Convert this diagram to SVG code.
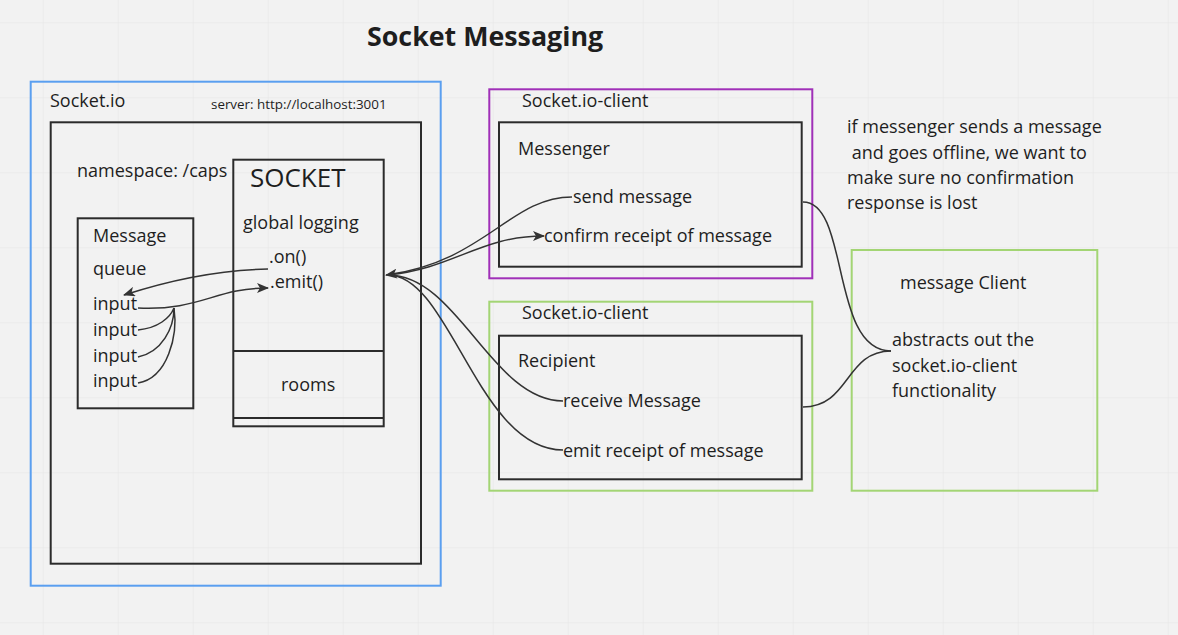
<svg xmlns="http://www.w3.org/2000/svg" width="1178" height="635" viewBox="0 0 1178 635">
<defs>
<pattern id="grid" x="42.7" y="22.3" width="75" height="75" patternUnits="userSpaceOnUse">
<path d="M0,0 H75 M0,0 V75" stroke="#e6e6e6" stroke-width="1.2" fill="none"/>
</pattern>
<marker id="arr" viewBox="0 0 12 10" refX="11" refY="5" markerWidth="12" markerHeight="10" markerUnits="userSpaceOnUse" orient="auto">
<path d="M0,0 L12,5 L0,10 L3,5 z" fill="#333"/>
</marker>
<style>
text{font-family:"Open Sans","Noto Sans",sans-serif;fill:#1e1e1e;font-size:18px}
.box{fill:none;stroke:#2b2b2b;stroke-width:2}
.blue{fill:none;stroke:#5a9ff0;stroke-width:2}
.purple{fill:none;stroke:#a030b8;stroke-width:2}
.green{fill:none;stroke:#a3d574;stroke-width:2}
.c{fill:none;stroke:#333;stroke-width:1.5}
</style>
</defs>
<rect width="1178" height="635" fill="#f2f2f2"/>
<rect width="1178" height="635" fill="url(#grid)"/>

<text x="367" y="46" style="font-size:26.8px;font-weight:bold">Socket Messaging</text>

<g id="socketio">
<rect class="blue" x="30.7" y="81.7" width="410" height="504"/>
<text x="50" y="107">Socket.io</text>
<text x="211" y="109" style="font-size:13.4px">server: http://localhost:3001</text>
</g>
<g id="namespace">
<rect class="box" x="50.7" y="122.3" width="370.3" height="441.4"/>
<text x="77" y="177">namespace: /caps</text>
</g>
<g id="message-queue">
<rect class="box" x="77.7" y="218.3" width="115.6" height="190"/>
<text x="93" y="242">Message</text>
<text x="93" y="275">queue</text>
<text x="93" y="310">input</text>
<text x="93" y="336">input</text>
<text x="93" y="362">input</text>
<text x="93" y="387">input</text>
</g>
<g id="socket">
<rect class="box" x="233.3" y="159.7" width="150.4" height="266.6"/>
<line class="box" x1="233.3" y1="351" x2="383.7" y2="351"/>
<line class="box" x1="233.3" y1="418" x2="383.7" y2="418"/>
<text x="250" y="187" style="font-size:26px">SOCKET</text>
<text x="243" y="229">global logging</text>
<text x="269" y="263">.on()</text>
<text x="270" y="288">.emit()</text>
<text x="281" y="391">rooms</text>
</g>
<g id="client-messenger">
<rect class="purple" x="489.3" y="89.3" width="323" height="189"/>
<text x="522" y="107">Socket.io-client</text>
<rect class="box" x="499" y="122.3" width="302.7" height="144.4"/>
<text x="518" y="155">Messenger</text>
<text x="573" y="203">send message</text>
<text x="544" y="242">confirm receipt of message</text>
</g>
<g id="client-recipient">
<rect class="green" x="489.3" y="301.7" width="323" height="189"/>
<text x="522" y="319">Socket.io-client</text>
<rect class="box" x="499" y="335.7" width="302.7" height="143.6"/>
<text x="518" y="367">Recipient</text>
<text x="563" y="407">receive Message</text>
<text x="563" y="457">emit receipt of message</text>
</g>
<g id="note">
<text x="847" y="133">if messenger sends a message</text>
<text x="847" y="159" xml:space="preserve"> and goes offline, we want to</text>
<text x="847" y="184">make sure no confirmation</text>
<text x="847" y="209">response is lost</text>
</g>
<g id="message-client">
<rect class="green" x="851.7" y="250" width="245.6" height="240.7"/>
<text x="900" y="289">message Client</text>
<text x="892" y="346">abstracts out the</text>
<text x="892" y="372">socket.io-client</text>
<text x="892" y="397">functionality</text>
</g>

<g id="connectors">
<path class="c" d="M268,269 C215,270 170,280 124,295" marker-end="url(#arr)"/>
<path class="c" d="M138,308 C200,311 215,288 268,288" marker-end="url(#arr)"/>
<path class="c" d="M138,330 C158,328 170,318 174,308"/>
<path class="c" d="M138,357 C162,352 174,328 174,308"/>
<path class="c" d="M138,383 C168,378 178,335 174,308"/>
<path class="c" d="M572,197 C510,197 485,262 386,275" marker-end="url(#arr)"/>
<path class="c" d="M388,275 C455,268 480,236 544,236" marker-end="url(#arr)"/>
<path class="c" d="M388,275 C458,275 492,401 563,401"/>
<path class="c" d="M388,275 C450,275 478,450 563,450"/>
<path class="c" d="M803,202 C850,202 830,351 891,351"/>
<path class="c" d="M803,407 C850,407 845,351 891,351"/>
</g>
</svg>
